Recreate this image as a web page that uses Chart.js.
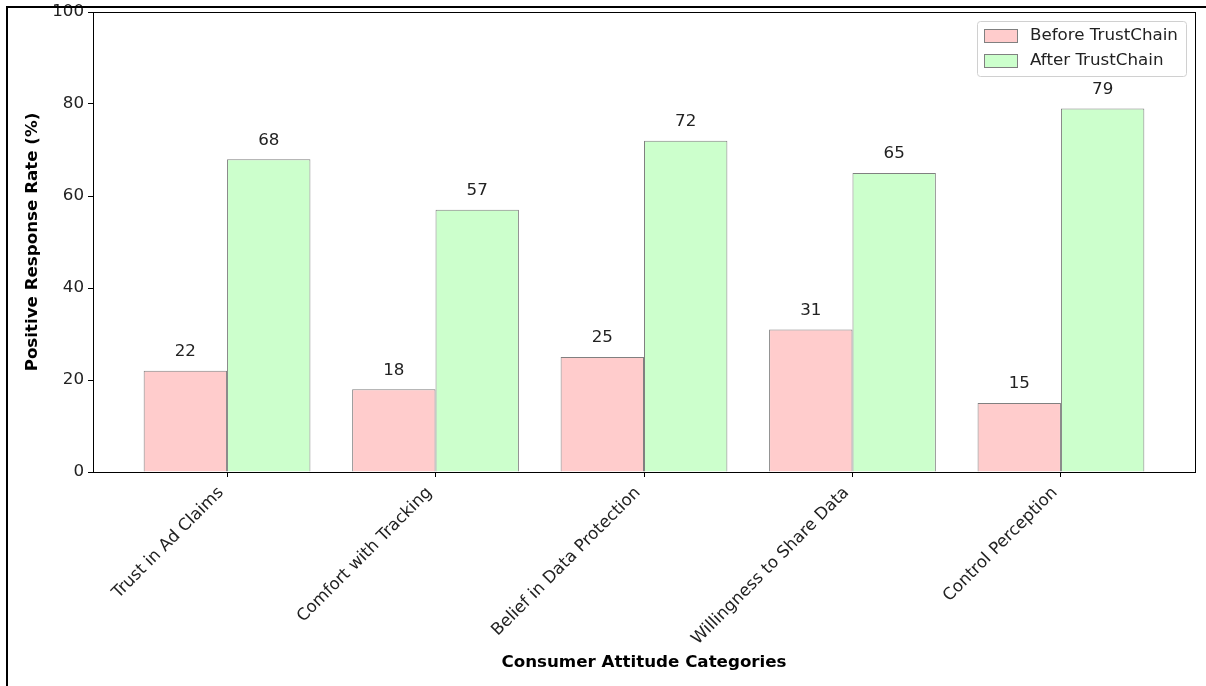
<!DOCTYPE html>
<html>
<head>
<meta charset="utf-8">
<script src="https://cdn.jsdelivr.net/npm/chart.js@4/dist/chart.umd.min.js"></script>
<style>
  html, body { margin: 0; padding: 0; background: #fff; }
  #wrap { width: 1206px; height: 686px; }
</style>
</head>
<body>
<div id="wrap"><canvas id="chart" width="1206" height="686"></canvas></div>
<script>
const categories = ['Trust in Ad Claims', 'Comfort with Tracking', 'Belief in Data Protection', 'Willingness to Share Data', 'Control Perception'];
const beforeValues = [22, 18, 25, 31, 15];
const afterValues = [68, 57, 72, 65, 79];
const seriesNames = ['Before TrustChain', 'After TrustChain'];
const yTicks = [0, 20, 40, 60, 80, 100];

const FONT = 'DejaVu Sans, sans-serif';
const FS = 16.7;

// frame around the plot + outer border + value labels + legend
const extras = {
  id: 'extras',
  afterDatasetsDraw(chart) {
    const ctx = chart.ctx;
    const a = chart.chartArea;
    ctx.save();
    // value labels
    ctx.fillStyle = '#222';
    ctx.font = FS + 'px ' + FONT;
    ctx.textAlign = 'center';
    ctx.textBaseline = 'middle';
    chart.data.datasets.forEach((ds, di) => {
      chart.getDatasetMeta(di).data.forEach((bar, i) => {
        ctx.fillText(String(ds.data[i].y), bar.x, bar.y - 19);
      });
    });
    // spines
    ctx.strokeStyle = '#000';
    ctx.lineWidth = 1;
    ctx.strokeRect(Math.round(a.left) + 0.5, Math.round(a.top) + 0.5, Math.round(a.right - a.left), Math.round(a.bottom - a.top));
    // outer border (top and left)
    ctx.lineWidth = 2;
    ctx.beginPath();
    ctx.moveTo(7, 686);
    ctx.lineTo(7, 7);
    ctx.lineTo(1206, 7);
    ctx.stroke();
    // legend
    const lx = 977, ly = 21, lw = 209, lh = 55;
    ctx.fillStyle = 'rgba(255,255,255,0.8)';
    ctx.strokeStyle = '#d0d0d0';
    ctx.lineWidth = 1;
    ctx.beginPath();
    ctx.roundRect(lx + 0.5, ly + 0.5, lw, lh, 3);
    ctx.fill();
    ctx.stroke();
    ctx.font = FS + 'px ' + FONT;
    ctx.textAlign = 'left';
    chart.data.datasets.forEach((ds, di) => {
      const y = ly + 8 + di * 25;
      ctx.fillStyle = ds.backgroundColor;
      ctx.fillRect(984, y, 33, 13);
      ctx.strokeStyle = ds.borderColor;
      ctx.strokeRect(984.5, y + 0.5, 33, 13);
      ctx.fillStyle = '#222';
      ctx.fillText(ds.label, 1030, y + 7);
    });
    ctx.restore();
  }
};

new Chart(document.getElementById('chart'), {
  type: 'bar',
  data: {
    datasets: [
      {
        label: seriesNames[0],
        data: beforeValues.map((v, i) => ({ x: i, y: v })),
        backgroundColor: '#ffcccc',
        borderColor: '#808080',
        borderWidth: 1
      },
      {
        label: seriesNames[1],
        data: afterValues.map((v, i) => ({ x: i, y: v })),
        backgroundColor: '#ccffcc',
        borderColor: '#808080',
        borderWidth: 1
      }
    ]
  },
  options: {
    responsive: false,
    animation: false,
    categoryPercentage: 0.8,
    barPercentage: 1.0,
    layout: { padding: { top: 12, right: 11, bottom: 0, left: 0 } },
    plugins: {
      legend: { display: false },
      tooltip: { enabled: false }
    },
    scales: {
      x: {
        type: 'linear',
        offset: false,
        min: -0.643,
        max: 4.643,
        afterBuildTicks: (scale) => { scale.ticks = categories.map((c, i) => ({ value: i })); },
        afterFit: (scale) => { scale.height = 214; },
        ticks: {
          callback: (v) => categories[v],
          autoSkip: false,
          minRotation: 45,
          maxRotation: 45,
          labelOffset: -6,
          color: '#222',
          font: { family: FONT, size: FS },
          padding: 6
        },
        grid: { offset: false, drawOnChartArea: false, drawTicks: true, tickLength: 5, color: '#000' },
        border: { color: '#000' },
        title: {
          display: true,
          text: 'Consumer Attitude Categories',
          color: '#000',
          font: { family: FONT, size: FS, weight: 'bold' },
          padding: { top: 13, bottom: 13 }
        }
      },
      y: {
        min: 0,
        max: 100,
        afterBuildTicks: (scale) => { scale.ticks = yTicks.map(v => ({ value: v })); },
        afterFit: (scale) => { scale.width = 93; scale.paddingTop = 0; scale.paddingBottom = 0; },
        ticks: {
          color: '#222',
          font: { family: FONT, size: FS },
          padding: 4
        },
        grid: { drawOnChartArea: false, drawTicks: true, tickLength: 5, color: '#000' },
        border: { color: '#000' },
        title: {
          display: true,
          text: 'Positive Response Rate (%)',
          color: '#000',
          font: { family: FONT, size: FS, weight: 'bold' },
          padding: { top: 23, bottom: 23 }
        }
      }
    }
  },
  plugins: [extras]
});
</script>
</body>
</html>
